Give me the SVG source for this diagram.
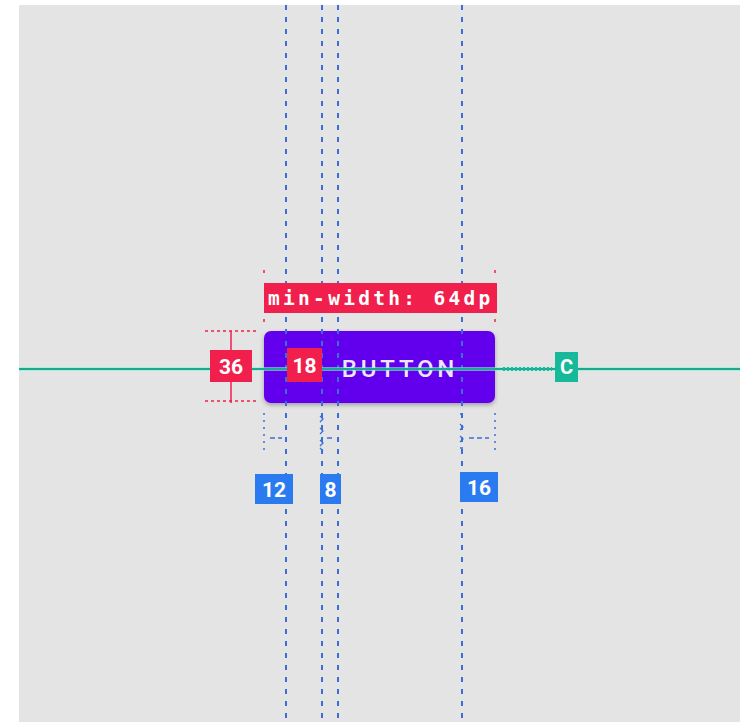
<svg xmlns="http://www.w3.org/2000/svg" width="751" height="722" viewBox="0 0 751 722">
<style>
.bg{fill:#e4e4e4}
.guide{stroke:#3a6fd8;stroke-width:2;stroke-dasharray:5 7;fill:none}
.dot{stroke:#3a6fd8;stroke-width:1.5;stroke-dasharray:2 5;fill:none}
.red{fill:#f01f4b}
.redline{stroke:#f01f4b;stroke-width:1.5;fill:none}
.reddash{stroke:#f01f4b;stroke-width:1.5;stroke-dasharray:3 3;fill:none}
.blue{fill:#2a7af0}
.teal{fill:#16b99a}
.lbl{font-family:"Roboto","Liberation Sans",sans-serif;font-weight:bold;fill:#ffffff;text-anchor:middle}
.mono{font-family:"DejaVu Sans Mono","Liberation Mono",monospace;font-weight:bold;fill:#ffffff}
</style>
<defs>
<filter id="sh" x="-10%" y="-20%" width="120%" height="150%">
<feDropShadow dx="0" dy="2" stdDeviation="2" flood-color="#000" flood-opacity="0.3"/>
</filter>
</defs>
<rect x="0" y="0" width="751" height="722" fill="#ffffff"/>
<rect class="bg" x="19" y="5" width="721" height="717"/>

<g id="button">
<rect x="264" y="331" width="231" height="72" rx="7" fill="#6200ee" filter="url(#sh)"/>
<text x="400" y="377" font-family="Roboto,'Liberation Sans',sans-serif" font-weight="500" font-size="24" letter-spacing="3.8" fill="#ece6ff" text-anchor="middle">BUTTON</text>
</g>

<g id="connectors">
<path class="guide" d="M286 5V722M322 5V722M338 5V722M462 5V722"/>
<path d="M19 369H740" stroke="#8ff0dc" stroke-width="4" opacity="0.6"/>
<path d="M19 369H740" stroke="#19a98c" stroke-width="1.8"/>
<path d="M503 369H552" stroke="#16b99a" stroke-width="4" stroke-dasharray="2 2"/>
<path class="dot" d="M264 413V452M495 413V452"/>
<path d="M320 416l3 3-3 3M320 428l3 3-3 3M320 440l3 3-3 3M320 448l3 3" stroke="#3a6fd8" stroke-width="1.3" fill="none"/>
<path d="M460 414h3M460 424l3 3-3 3M460 436l3 3-3 3M460 448h3" stroke="#3a6fd8" stroke-width="1.3" fill="none"/>
<path d="M270 438h12M327 438h8M469 438h20" stroke="#3a6fd8" stroke-width="1.5" stroke-dasharray="5 3"/>
<path class="redline" d="M231 331v72"/>
<path class="reddash" d="M205 331h52M205 401h52"/>
<path class="reddash" d="M264 270v4M264 319v4M495 270v4M495 319v4"/>
</g>

<g id="min-width">
<rect class="red" x="264" y="283" width="233" height="30"/>
<text class="mono" x="268" y="305" font-size="19.5" letter-spacing="3.3">min-width: 64dp</text>
</g>

<g id="height-36">
<rect class="red" x="210" y="350" width="42" height="32"/>
<text class="lbl" x="231" y="374" font-size="21">36</text>
</g>

<g id="icon-18">
<rect class="red" x="287" y="348" width="35" height="34"/>
<text class="lbl" x="304.5" y="373" font-size="21">18</text>
</g>

<g id="c-badge">
<rect class="teal" x="555" y="352" width="23" height="30"/>
<text class="lbl" x="566.5" y="374" font-size="20">C</text>
</g>

<g id="m-12">
<rect class="blue" x="255" y="474" width="38" height="30"/>
<text class="lbl" x="274" y="497" font-size="21">12</text>
</g>
<g id="m-8">
<rect class="blue" x="320" y="474" width="21" height="30"/>
<text class="lbl" x="330.5" y="497" font-size="21">8</text>
</g>
<g id="m-16">
<rect class="blue" x="460" y="472" width="38" height="30"/>
<text class="lbl" x="479" y="495" font-size="21">16</text>
</g>
</svg>
